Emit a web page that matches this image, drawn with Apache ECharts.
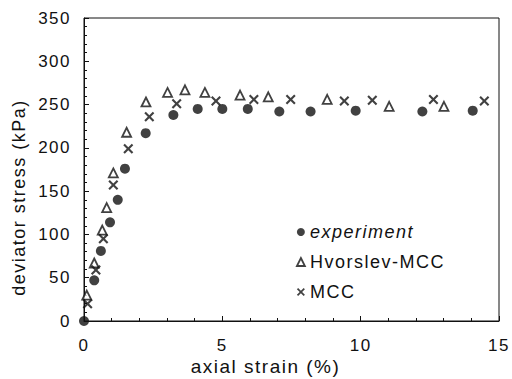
<!DOCTYPE html>
<html>
<head>
<meta charset="utf-8">
<script src="https://cdn.jsdelivr.net/npm/echarts@6/dist/echarts.min.js"></script>
<style>
  html, body { margin: 0; padding: 0; background: #fff; }
  #chart { width: 512px; height: 379px; }
  /* the scanned figure has loosely spaced lettering */
  #chart svg text { letter-spacing: 1.5px; }
</style>
</head>
<body>
<div id="chart"></div>
<script>
// values: [axial strain %, deviator stress kPa]
const experiment = [
  [0, 0], [0.37, 47], [0.61, 81], [0.94, 114], [1.22, 140], [1.48, 176],
  [2.23, 217], [3.23, 238], [4.11, 245], [5.0, 245], [5.92, 245],
  [7.06, 242], [8.19, 242], [9.82, 243], [12.23, 242], [14.05, 243]
];
const hvorslev = [
  [0.1, 30], [0.37, 67], [0.66, 105], [0.82, 131], [1.06, 171], [1.54, 218],
  [2.24, 253], [3.02, 264], [3.65, 267], [4.37, 264], [5.64, 261],
  [6.66, 259], [8.79, 256], [11.03, 248], [13.01, 248]
];
const mcc = [
  [0.13, 20], [0.43, 59], [0.7, 95], [1.06, 157], [1.6, 199], [2.36, 236],
  [3.35, 251], [4.77, 254], [6.14, 256], [7.47, 256], [9.41, 254],
  [10.42, 255], [12.63, 256], [14.47, 254]
];
const seriesNames = ['experiment', 'Hvorslev-MCC', 'MCC'];

const crossPath = 'path://M0,1.5L1.5,0L5,3.5L8.5,0L10,1.5L6.5,5L10,8.5L8.5,10L5,6.5L1.5,10L0,8.5L3.5,5Z';
const font = 'Liberation Sans';
const ink = '#111';

let myChart = echarts.init(document.getElementById('chart'), null, { renderer: 'svg' });
let option = {
  animation: false,
  backgroundColor: '#fff',
  grid: {
    left: 84, right: 13, top: 18, bottom: 58,
    outerBoundsMode: 'none',
    show: true, borderColor: ink, borderWidth: 1
  },
  legend: {
    orient: 'vertical',
    left: 296, top: 223,
    padding: 0,
    itemWidth: 8, itemHeight: 8,
    itemGap: 12,
    textStyle: { fontFamily: font, fontSize: 18, lineHeight: 18, color: ink },
    data: [
      { name: seriesNames[0], icon: 'circle', textStyle: { fontStyle: 'italic' } },
      { name: seriesNames[1], icon: 'triangle', itemStyle: { color: '#fff', borderColor: ink, borderWidth: 1.8 } },
      { name: seriesNames[2], icon: crossPath }
    ]
  },
  xAxis: {
    type: 'value',
    min: 0, max: 15, interval: 5,
    name: 'axial strain (%)',
    nameLocation: 'middle',
    nameGap: 36,
    nameMoveOverlap: false,
    nameTextStyle: { fontFamily: font, fontSize: 19, color: ink, padding: [0, 52, 0, 0] },
    axisLine: { lineStyle: { color: ink, width: 1 } },
    axisTick: { inside: true, length: 5, lineStyle: { color: ink } },
    minorTick: { show: true, splitNumber: 5, length: 3, lineStyle: { color: ink } },
    axisLabel: { fontFamily: font, fontSize: 17, color: ink, margin: 16 },
    splitLine: { show: false }
  },
  yAxis: {
    type: 'value',
    min: 0, max: 350, interval: 50,
    name: 'deviator stress (kPa)',
    nameLocation: 'middle',
    nameGap: 56,
    nameMoveOverlap: false,
    nameTextStyle: { fontFamily: font, fontSize: 18, color: ink, padding: [0, 56, 0, 0] },
    axisLine: { show: true, lineStyle: { color: ink, width: 1 } },
    axisTick: { inside: true, length: 5, lineStyle: { color: ink } },
    minorTick: { show: true, splitNumber: 5, length: 3, lineStyle: { color: ink } },
    axisLabel: { fontFamily: font, fontSize: 17, color: ink, margin: 13 },
    splitLine: { show: false }
  },
  series: [
    {
      name: seriesNames[0], type: 'scatter', data: experiment,
      symbol: 'circle', symbolSize: 10,
      itemStyle: { color: ink }
    },
    {
      name: seriesNames[1], type: 'scatter', data: hvorslev,
      symbol: 'triangle', symbolSize: 9,
      itemStyle: { color: '#fff', borderColor: ink, borderWidth: 1.8 }
    },
    {
      name: seriesNames[2], type: 'scatter', data: mcc,
      symbol: crossPath, symbolSize: 10,
      itemStyle: { color: ink }
    }
  ]
};
myChart.setOption(option);
</script>
</body>
</html>
